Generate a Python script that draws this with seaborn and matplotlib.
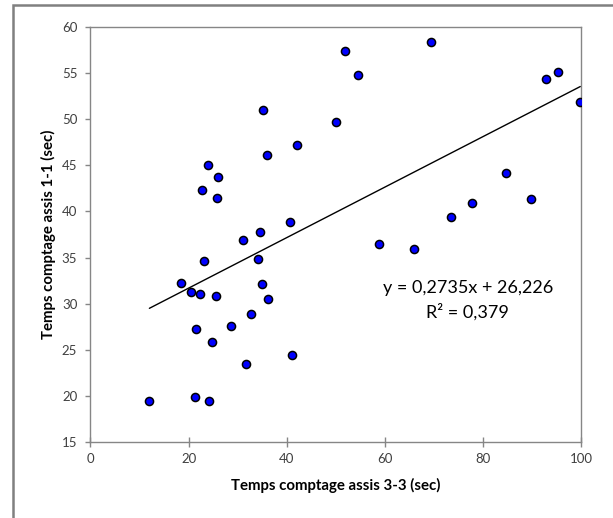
import numpy as np
import pandas as pd
import matplotlib
matplotlib.use("Agg")
import matplotlib.pyplot as plt
from matplotlib.patches import Rectangle
import seaborn as sns

# values
assis_33 = [51.8, 35.1, 50.1, 42.1, 36.0, 24.0, 26.0, 22.8, 25.8, 40.6,
            34.6, 31.1, 34.2, 23.2, 18.5, 35.0, 20.5, 22.4, 25.5, 36.2,
            32.7, 28.7, 21.4, 24.7, 41.0, 31.7, 21.3, 12.0, 24.2, 54.6,
            69.3, 92.9, 95.2, 99.8, 84.6, 89.7, 77.8, 73.5, 58.8, 66.0]
assis_11 = [57.4, 51.0, 49.65, 47.2, 46.1, 45.0, 43.7, 42.3, 41.45, 38.85,
            37.8, 36.9, 34.85, 34.6, 32.2, 32.1, 31.3, 31.1, 30.8, 30.55,
            28.9, 27.6, 27.3, 25.9, 24.4, 23.5, 19.9, 19.5, 19.5, 54.8,
            58.3, 54.3, 55.1, 51.85, 44.2, 41.35, 40.9, 39.4, 36.5, 35.9]
slope = 0.2735
intercept = 26.226
r2 = 0.379
x_ticks = [0, 20, 40, 60, 80, 100]
y_ticks = [15, 20, 25, 30, 35, 40, 45, 50, 55, 60]

df = pd.DataFrame({"x": assis_33, "y": assis_11})

sns.set_theme(style="white")
plt.rcParams["font.family"] = ["Lato", "DejaVu Sans"]

fig = plt.figure(figsize=(6.13, 5.18), dpi=100)
ax = fig.add_axes([0.1476, 0.1461, 0.8007, 0.8024])

# outer chart frame
fig.patches.append(Rectangle((13 / 613, -0.1), 1.2, 1.1 - 5 / 518,
                             transform=fig.transFigure, fill=False,
                             edgecolor="#808080", linewidth=1.8))

# trend line
xs = np.array([min(assis_33), max(assis_33)])
sns.lineplot(x=xs, y=slope * xs + intercept, ax=ax, color="black",
             linewidth=1.0, zorder=2)

sns.scatterplot(data=df, x="x", y="y", ax=ax, color="#0000FF",
                edgecolor="black", linewidth=1.1, s=34, zorder=3)

ax.set_xlim(0, 100)
ax.set_ylim(15, 60)
ax.set_xticks(x_ticks)
ax.set_yticks(y_ticks)
for sp in ax.spines.values():
    sp.set_color("#868686")
    sp.set_linewidth(1.0)

ax.tick_params(axis="x", direction="inout", length=7, width=1.0,
               color="#868686", labelsize=9.5, labelcolor="#404040", pad=4)
ax.tick_params(axis="y", direction="out", length=3.5, width=1.0,
               color="#868686", labelsize=9.5, labelcolor="#404040", pad=6)
ax.tick_params(bottom=True, left=True)

ax.set_xlabel("Temps comptage assis 3-3 (sec)", fontsize=10.8,
              fontweight="bold", color="black")
ax.set_ylabel("Temps comptage assis 1-1 (sec)", fontsize=10.8,
              fontweight="bold", color="black")
ax.xaxis.label.set_va("center")
ax.yaxis.label.set_va("center")
ax.xaxis.set_label_coords(0.5, -0.1027)
ax.yaxis.set_label_coords(-0.0866, 0.5)

ax.text(76.9, 31.7, f"y = {slope:.4f}x + {intercept:.3f}".replace(".", ","),
        ha="center", va="center", fontsize=13, color="black")
ax.text(76.9, 29.1, f"R² = {r2:.3f}".replace(".", ","),
        ha="center", va="center", fontsize=13, color="black")

fig.savefig("out.png", dpi=100)
